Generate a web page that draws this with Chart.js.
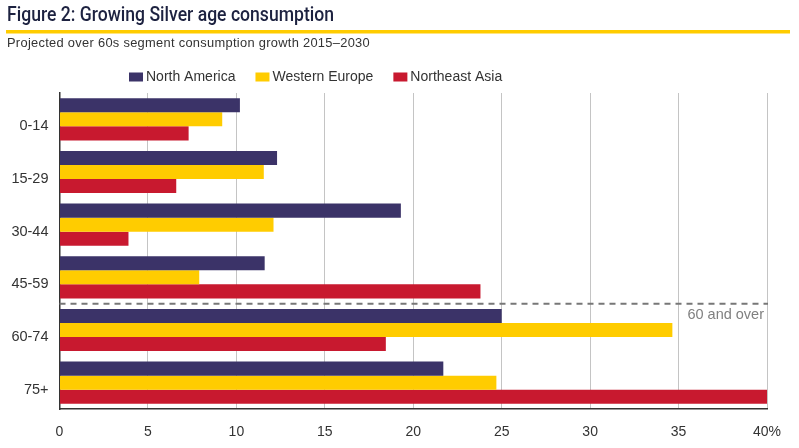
<!DOCTYPE html>
<html>
<head>
<meta charset="utf-8">
<script src="https://cdn.jsdelivr.net/npm/chart.js@4/dist/chart.umd.min.js"></script>
<style>
  html, body { margin: 0; padding: 0; background: #ffffff; }
  #wrap { width: 799px; height: 448px; position: relative; }
</style>
</head>
<body>
<div id="wrap"><canvas id="c" width="799" height="448"></canvas></div>
<script>
const titleText = 'Figure 2: Growing Silver age consumption';
const subtitleText = 'Projected over 60s segment consumption growth 2015\u20132030';
const categories = ['0-14', '15-29', '30-44', '45-59', '60-74', '75+'];
const seriesNames = ['North America', 'Western Europe', 'Northeast Asia'];
const northAmerica = [10.2, 12.3, 19.3, 11.6, 25.0, 21.7];
const westernEurope = [9.2, 11.55, 12.1, 7.9, 34.65, 24.7];
const northeastAsia = [7.3, 6.6, 3.9, 23.8, 18.45, 40.0];
const xTickValues = [0, 5, 10, 15, 20, 25, 30, 35, 40];
const xTickLabels = ['0', '5', '10', '15', '20', '25', '30', '35', '40%'];
const dividerAfter = '45-59';
const dividerLabel = '60 and over';

const colors = ['#3b3368', '#ffcc00', '#c8192f'];
const FONT = '"Liberation Sans", Arial, sans-serif';

const decor = {
  id: 'decor',
  beforeDraw(chart) {
    const ctx = chart.ctx;
    ctx.save();
    ctx.fillStyle = '#ffffff';
    ctx.fillRect(0, 0, chart.width, chart.height);
    ctx.restore();
  },
  afterDatasetsDraw(chart) {
    const ctx = chart.ctx;
    const y = chart.scales.y;
    const i = categories.indexOf(dividerAfter);
    const yy = (y.getPixelForValue(i) + y.getPixelForValue(i + 1)) / 2;
    ctx.save();
    ctx.strokeStyle = '#777777';
    ctx.lineWidth = 2;
    ctx.setLineDash([6, 5]);
    ctx.beginPath();
    ctx.moveTo(chart.chartArea.left, yy);
    ctx.lineTo(chart.chartArea.right + 1, yy);
    ctx.stroke();
    ctx.setLineDash([]);
    ctx.fillStyle = '#808080';
    ctx.font = '14.5px ' + FONT;
    ctx.textAlign = 'right';
    ctx.textBaseline = 'middle';
    ctx.fillText(dividerLabel, chart.chartArea.right - 3, yy + 11);
    ctx.restore();
  },
  afterDraw(chart) {
    const ctx = chart.ctx;
    ctx.save();
    // Title
    ctx.fillStyle = '#1d2240';
    ctx.font = '500 19.5px Roboto, ' + FONT;
    ctx.textAlign = 'left';
    ctx.textBaseline = 'alphabetic';
    ctx.fillText(titleText, 7, 21, 327);
    // yellow rule
    ctx.fillStyle = '#ffcc00';
    ctx.fillRect(6, 30, 784, 3.5);
    // subtitle
    ctx.fillStyle = '#333333';
    ctx.font = '13px ' + FONT;
    try { ctx.letterSpacing = '0.3px'; } catch (e) {}
    ctx.fillText(subtitleText, 7, 47, 363);
    try { ctx.letterSpacing = '0px'; } catch (e) {}
    // legend
    ctx.font = '14px ' + FONT;
    ctx.textBaseline = 'middle';
    let lx = 129;
    chart.data.datasets.forEach(ds => {
      ctx.fillStyle = ds.backgroundColor;
      ctx.fillRect(lx, 72.5, 14, 9);
      ctx.fillStyle = '#333333';
      ctx.fillText(ds.label, lx + 17, 77.5);
      lx += 17 + ctx.measureText(ds.label).width + 20;
    });
    ctx.restore();
  }
};

const datasets = [northAmerica, westernEurope, northeastAsia].map((vals, k) => ({
  label: seriesNames[k],
  data: vals,
  backgroundColor: colors[k],
  borderWidth: 0,
  categoryPercentage: 0.8,
  barPercentage: 1.0
}));

new Chart(document.getElementById('c'), {
  type: 'bar',
  data: { labels: categories, datasets },
  options: {
    indexAxis: 'y',
    responsive: false,
    animation: false,
    devicePixelRatio: 1,
    layout: { padding: { top: 93, left: 0, right: 32, bottom: 0 } },
    plugins: { legend: { display: false }, tooltip: { enabled: false }, title: { display: false } },
    scales: {
      x: {
        min: 0, max: 40,
        afterBuildTicks(scale) { scale.ticks = xTickValues.map(v => ({ value: v })); },
        afterFit(scale) { scale.height = 39; },
        grid: { color: '#c4c4c4', lineWidth: 1, drawTicks: false },
        border: { display: true, color: '#333333', width: 1.5 },
        ticks: {
          padding: 15,
          color: '#333333',
          font: { family: FONT, size: 14 },
          maxRotation: 0,
          callback(v) { return xTickLabels[xTickValues.indexOf(v)]; }
        }
      },
      y: {
        afterFit(scale) { scale.width = 59.5; },
        grid: { display: false, drawTicks: false },
        border: { display: true, color: '#333333', width: 1.5 },
        ticks: {
          padding: 11,
          labelOffset: 7,
          color: '#333333',
          font: { family: FONT, size: 14.5 }
        }
      }
    }
  },
  plugins: [decor]
});
</script>
</body>
</html>
